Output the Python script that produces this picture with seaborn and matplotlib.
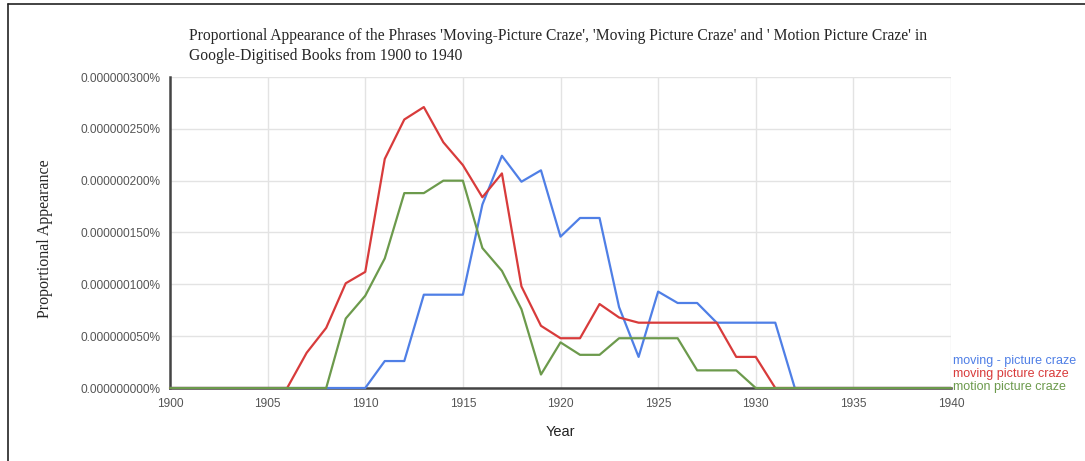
import numpy as np
import pandas as pd
import matplotlib
matplotlib.use("Agg")
import matplotlib.pyplot as plt
from matplotlib.lines import Line2D
from matplotlib.ticker import FuncFormatter
import seaborn as sns

# values are in units of 1e-7 %
years = list(range(1900, 1941))
moving_hyphen = [0, 0, 0, 0, 0, 0, 0, 0, 0, 0, 0,
                 0.26, 0.26, 0.90, 0.90, 0.90, 1.77, 2.24, 1.99, 2.10, 1.46,
                 1.64, 1.64, 0.78, 0.30, 0.93, 0.82, 0.82, 0.63, 0.63, 0.63,
                 0.63, 0, 0, 0, 0, 0, 0, 0, 0, 0]
moving_picture = [0, 0, 0, 0, 0, 0, 0,
                  0.34, 0.58, 1.01, 1.12, 2.21, 2.59, 2.71, 2.37, 2.15, 1.84,
                  2.07, 0.98, 0.60, 0.48, 0.48, 0.81, 0.68, 0.63, 0.63, 0.63,
                  0.63, 0.63, 0.30, 0.30,
                  0, 0, 0, 0, 0, 0, 0, 0, 0, 0]
motion_picture = [0, 0, 0, 0, 0, 0, 0, 0, 0,
                  0.67, 0.89, 1.25, 1.88, 1.88, 2.00, 2.00, 1.35, 1.13, 0.76,
                  0.13, 0.44, 0.32, 0.32, 0.48, 0.48, 0.48, 0.48, 0.17, 0.17,
                  0.17, 0, 0, 0, 0, 0, 0, 0, 0, 0, 0, 0]

series_names = ["moving - picture craze", "moving picture craze", "motion picture craze"]
colors = ["#4f7fe6", "#d83b3b", "#6c9a4c"]

df = pd.concat([
    pd.DataFrame({"Year": years, "value": vals, "phrase": name})
    for name, vals in zip(series_names, [moving_hyphen, moving_picture, motion_picture])
])

sns.set_style("white")
fig = plt.figure(figsize=(10.85, 4.61), dpi=100)
ax = fig.add_axes([170 / 1085, 1 - 388 / 461, 781 / 1085, 311 / 461])

sns.lineplot(data=df, x="Year", y="value", hue="phrase", hue_order=series_names,
             palette=colors, linewidth=1.6, legend=False, ax=ax)
for ln in ax.get_lines():
    ln.set_clip_on(False)
    ln.set_zorder(3)

ax.set_xlim(1900, 1940)
ax.set_ylim(0, 3.0)
ax.set_xticks(range(1900, 1941, 5))
ax.set_yticks(np.arange(0, 3.01, 0.5))
ax.yaxis.set_major_formatter(FuncFormatter(lambda v, p: f"{v / 1e7:.9f}%"))
ax.grid(True, color="#e3e3e3", linewidth=1)
ax.set_axisbelow(True)

for s in ["top", "right"]:
    ax.spines[s].set_visible(False)
for s in ["left", "bottom"]:
    ax.spines[s].set_color("#444444")
    ax.spines[s].set_linewidth(1.8)
    ax.spines[s].set_zorder(2)
ax.tick_params(axis="both", which="major", length=5, width=1, color="#444444",
               labelsize=8.6, labelcolor="#555555", pad=2, direction="out")
for lab in ax.get_xticklabels() + ax.get_yticklabels():
    lab.set_family("Liberation Sans")

ax.set_xlabel("Year", fontsize=10.5, family="Liberation Sans", color="#222222", labelpad=11)
ax.set_ylabel("")
fig.text(45 / 1085, 1 - 239 / 461, "Proportional Appearance", rotation=90,
         ha="center", va="center", fontsize=11.5, family="Liberation Serif")

fig.text(189 / 1085, 1 - 28 / 461,
         "Proportional Appearance of the Phrases 'Moving-Picture Craze', 'Moving Picture Craze' "
         "and ' Motion Picture Craze' in\nGoogle-Digitised Books from 1900 to 1940",
         ha="left", va="top", fontsize=11.25, family="Liberation Serif", linespacing=1.33)

for i, (name, c) in enumerate(zip(series_names, colors)):
    fig.text(953 / 1085, 1 - (361 + 13 * i) / 461, name, color=c, ha="left", va="center",
             fontsize=9.0, family="Liberation Sans")

# page border lines
fig.add_artist(Line2D([7.5 / 1085, 7.5 / 1085], [0, 1 - 4.5 / 461],
                      transform=fig.transFigure, color="#222222", linewidth=1.2))
fig.add_artist(Line2D([7.5 / 1085, 1], [1 - 4.5 / 461, 1 - 4.5 / 461],
                      transform=fig.transFigure, color="#222222", linewidth=1.2))

fig.savefig("out.png", dpi=100)
